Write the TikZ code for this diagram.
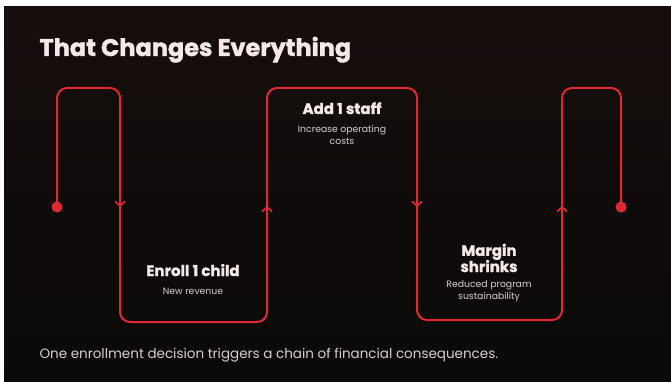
\documentclass[tikz,border=0pt]{standalone}
\usepackage{fontspec}
\setmainfont{Poppins}
\newfontfamily\heavyfont{Poppins}[BoldFeatures={FakeBold=1.5}]
\usepackage{tikz}
\usetikzlibrary{arrows.meta}
\definecolor{bgtop}{RGB}{22, 14, 13}
\definecolor{bgbot}{RGB}{11, 9, 9}
\definecolor{flowred}{RGB}{226, 40, 50}
\definecolor{ink}{RGB}{245, 232, 232}
\definecolor{soft}{RGB}{218, 206, 206}

\begin{document}
\begin{tikzpicture}[x=1pt, y=-1pt,
    flow/.style={flowred, line width=2pt, rounded corners=10pt},
    chevron/.style={flowred, line width=1.6pt, -{Straight Barb[length=4.5pt, width=10pt]}},
    heading/.style={ink, align=center, font=\fontsize{15}{16}\selectfont\heavyfont\bfseries},
    caption/.style={soft, align=center, font=\fontsize{9.3}{12}\selectfont}]

  \useasboundingbox (0, 0) rectangle (671, 382);
  \fill[white] (0, 0) rectangle (671, 382);
  \shade[top color=bgtop, bottom color=bgbot] (4, 7) rectangle (671, 382);

  % corners of the winding line
  \coordinate (start) at (57, 207);
  \coordinate (finish) at (621, 207);

  \draw[flow] (start) -- (57, 88) -- (120, 88) -- (120, 322) -- (267, 322)
    -- (267, 88) -- (417, 88) -- (417, 320) -- (562, 320) -- (562, 88)
    -- (621, 88) -- (finish);

  \fill[flowred] (start) circle (5.5);
  \fill[flowred] (finish) circle (5.5);

  % direction marks
  \draw[chevron] (120, 198) -- (120, 207);
  \draw[chevron] (267, 216) -- (267, 206);
  \draw[chevron] (417, 198) -- (417, 207);
  \draw[chevron] (562, 216) -- (562, 206);

  \node[ink, anchor=base west, font=\fontsize{24}{26}\selectfont\heavyfont\bfseries] (title)
    at (36, 56) {That Changes Everything};

  \node[heading, anchor=base] (enroll) at (193, 276) {Enroll 1 child};
  \node[caption] (enrolltxt) at (193, 291) {New revenue};

  \node[heading, anchor=base] (staff) at (342, 114) {Add 1 staff};
  \node[caption] (stafftxt) at (342, 135) {Increase operating\\costs};

  \node[heading, anchor=base, align=center] (margin) at (489, 272) {Margin\\[-1pt]shrinks};
  \node[caption] (margintxt) at (489, 291) {Reduced program\\sustainability};

  \node[soft, anchor=west, font=\fontsize{13.5}{15}\selectfont] (footer)
    at (36, 355) {One enrollment decision triggers a chain of financial consequences.};

\end{tikzpicture}
\end{document}
